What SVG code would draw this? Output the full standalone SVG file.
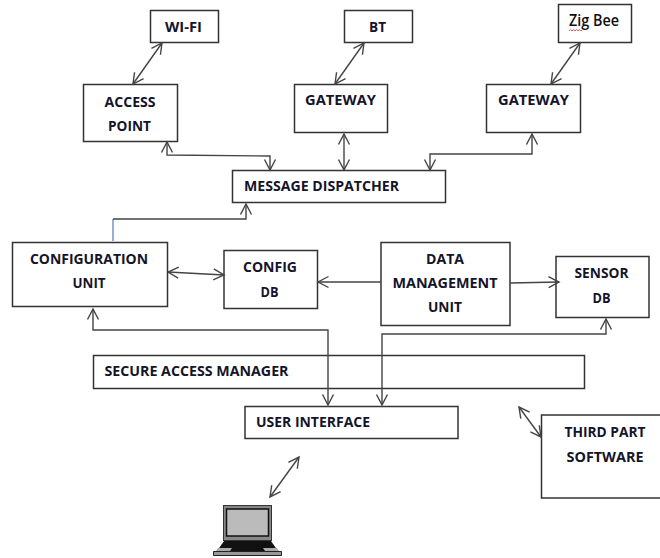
<svg xmlns="http://www.w3.org/2000/svg" width="660" height="558" viewBox="0 0 660 558">
<style>
.b{fill:#fff;stroke:#333;stroke-width:1.5}
.t{font-family:"Open Sans","Liberation Sans",sans-serif;font-weight:700;font-size:13.5px;fill:#14142a;text-anchor:middle}
.c{fill:none;stroke:#444;stroke-width:1.4}
.a{marker-start:url(#m);marker-end:url(#m)}
.e{marker-end:url(#m)}
</style>
<defs>
<marker id="m" markerUnits="userSpaceOnUse" markerWidth="14" markerHeight="14" refX="12" refY="7" orient="auto-start-reverse">
<path d="M1.500 1.500L12 7L1.500 12.500" fill="none" stroke="#444" stroke-width="1.4"/>
</marker>
</defs>
<rect width="660" height="558" fill="#fff"/>
<g id="wifi"><rect class="b" x="150.500" y="10.500" width="68" height="32"/><text class="t" x="183.500" y="32" textLength="37" lengthAdjust="spacingAndGlyphs">WI-FI</text></g>
<g id="bt"><rect class="b" x="344.500" y="10.500" width="68" height="32"/><text class="t" x="377.500" y="32" textLength="17" lengthAdjust="spacingAndGlyphs">BT</text></g>
<g id="zigbee"><rect class="b" x="558.500" y="4.500" width="73" height="38"/><text class="t" x="594" y="26" textLength="50" lengthAdjust="spacingAndGlyphs" style="font-weight:600;font-size:16px;fill:#111">Zig Bee</text><path d="M569 31l1.500-1.500 1.500 1.500 1.500-1.500 1.500 1.500 1.500-1.500 1.500 1.500 1.500-1.500 1.500 1.500 1.500-1.500" fill="none" stroke="#d33" stroke-width=".8"/></g>
<g id="access-point"><rect class="b" x="83.500" y="84.500" width="94" height="57"/><text class="t" x="130" y="107" textLength="51" lengthAdjust="spacingAndGlyphs">ACCESS</text><text class="t" x="129.500" y="131" textLength="43" lengthAdjust="spacingAndGlyphs">POINT</text></g>
<g id="gateway-1"><rect class="b" x="294.500" y="84.500" width="93" height="48"/><text class="t" x="340.500" y="105" textLength="71" lengthAdjust="spacingAndGlyphs">GATEWAY</text></g>
<g id="gateway-2"><rect class="b" x="486.500" y="84.500" width="94" height="48"/><text class="t" x="533.500" y="105" textLength="71" lengthAdjust="spacingAndGlyphs">GATEWAY</text></g>
<g id="message-dispatcher"><rect class="b" x="232.500" y="170.500" width="213" height="32"/><text class="t" x="321.500" y="191" textLength="155" lengthAdjust="spacingAndGlyphs">MESSAGE DISPATCHER</text></g>
<g id="configuration-unit"><rect class="b" x="12.500" y="242.500" width="155" height="64"/><text class="t" x="89" y="264" textLength="118" lengthAdjust="spacingAndGlyphs">CONFIGURATION</text><text class="t" x="89" y="288" textLength="33" lengthAdjust="spacingAndGlyphs">UNIT</text></g>
<g id="config-db"><rect class="b" x="224" y="250.500" width="93.500" height="58"/><text class="t" x="270" y="272" textLength="54" lengthAdjust="spacingAndGlyphs">CONFIG</text><text class="t" x="269.500" y="297" textLength="18" lengthAdjust="spacingAndGlyphs">DB</text></g>
<g id="data-management-unit"><rect class="b" x="381" y="242.500" width="129" height="83"/><text class="t" x="445" y="264" textLength="38" lengthAdjust="spacingAndGlyphs">DATA</text><text class="t" x="445" y="288" textLength="105" lengthAdjust="spacingAndGlyphs">MANAGEMENT</text><text class="t" x="445" y="312" textLength="34" lengthAdjust="spacingAndGlyphs">UNIT</text></g>
<g id="sensor-db"><rect class="b" x="556" y="256.500" width="93" height="61"/><text class="t" x="601.500" y="278" textLength="54" lengthAdjust="spacingAndGlyphs">SENSOR</text><text class="t" x="601.500" y="303" textLength="18" lengthAdjust="spacingAndGlyphs">DB</text></g>
<g id="secure-access-manager"><rect class="b" x="93.500" y="355.500" width="491" height="33"/><text class="t" x="196.500" y="376" textLength="184" lengthAdjust="spacingAndGlyphs">SECURE ACCESS MANAGER</text></g>
<g id="user-interface"><rect class="b" x="245" y="406.500" width="213" height="32"/><text class="t" x="313" y="427" textLength="114" lengthAdjust="spacingAndGlyphs">USER INTERFACE</text></g>
<g id="third-part-software"><rect class="b" x="541.500" y="415" width="125" height="83"/><text class="t" x="605" y="437" textLength="81" lengthAdjust="spacingAndGlyphs">THIRD PART</text><text class="t" x="605" y="462" textLength="77" lengthAdjust="spacingAndGlyphs">SOFTWARE</text></g>
<g id="laptop">
<rect x="223.500" y="505.500" width="48" height="35" fill="#888" stroke="#333"/>
<rect x="226.500" y="509" width="42" height="27" fill="#bbb" stroke="#111" stroke-width="1.500"/>
<path d="M224 541h47l7 10H217z" fill="#111"/>
<path d="M218 548h14l-2 3h-14zM263 548h14l2 3h-14z" fill="#aaa"/>
<path d="M213.500 551.500h68v4h-68z" fill="#999" stroke="#222"/>
</g>
<g id="connectors">
<path class="c a" d="M162 43L133 84"/>
<path class="c a" d="M364 43L335 84"/>
<path class="c a" d="M580 43L551 84"/>
<path class="c a" d="M167 142V155L270 156V170"/>
<path class="c a" d="M344 134V170"/>
<path class="c a" d="M532 134V154H430V170"/>
<path class="c" d="M113 241V219" style="stroke:#6d8fc4"/>
<path class="c e" d="M113 219H246V204"/>
<path class="c a" d="M168 272L224 275"/>
<path class="c e" d="M381 282H318"/>
<path class="c e" d="M510 283L559 282"/>
<path class="c a" d="M93 309V330H328V405"/>
<path class="c a" d="M606 319V334H382V405"/>
<path class="c a" d="M519 407L541 437"/>
<path class="c a" d="M270 497L299 457"/>
</g>
</svg>
